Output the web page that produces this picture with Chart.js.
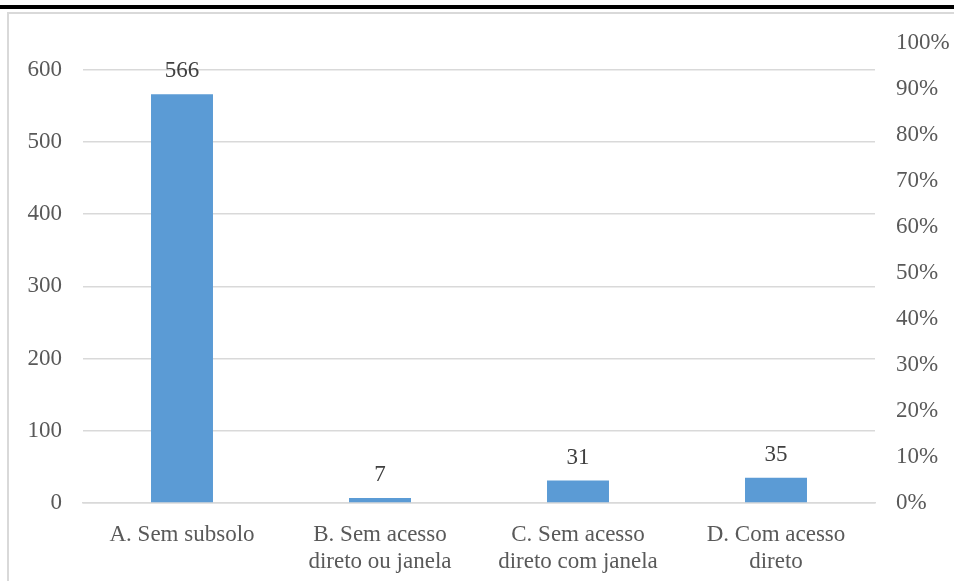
<!DOCTYPE html>
<html>
<head>
<meta charset="utf-8">
<script src="https://cdn.jsdelivr.net/npm/chart.js@4/dist/chart.umd.min.js"></script>
<style>
    body { margin: 0; background: #fff; }
    .topRule { position: absolute; left: 0; top: 5px; width: 954px; height: 4px; background: #000; }
    .frame {
        position: absolute; left: 7px; top: 12px; width: 945px; height: 567px;
        border-left: 2px solid #d9d9d9; border-top: 2px solid #d9d9d9;
    }
    .frame canvas { display: block; }
</style>
</head>
<body>
<div class="topRule"></div>
<div class="frame"><canvas id="subsoloChart" width="945" height="567"></canvas></div>
<script>
// Categories and counts
const categories = [
    ['A. Sem subsolo'],
    ['B. Sem acesso', 'direto ou janela'],
    ['C. Sem acesso', 'direto com janela'],
    ['D. Com acesso', 'direto']
];
const counts = [566, 7, 31, 35];
const countTicks = [0, 100, 200, 300, 400, 500, 600];
const percentTicks = [0, 0.1, 0.2, 0.3, 0.4, 0.5, 0.6, 0.7, 0.8, 0.9, 1];

const fontFamily = '"Liberation Serif", "Times New Roman", serif';
const tickColor = '#595959';

// Writes each bar's value above it
const valueLabels = {
    id: 'valueLabels',
    afterDatasetsDraw(chart) {
        const ctx = chart.ctx;
        const meta = chart.getDatasetMeta(0);
        ctx.save();
        ctx.font = '23px ' + fontFamily;
        ctx.fillStyle = '#404040';
        ctx.textAlign = 'center';
        ctx.textBaseline = 'middle';
        meta.data.forEach((bar, i) => {
            ctx.fillText(String(counts[i]), bar.x, bar.y - 23);
        });
        ctx.restore();
    }
};

// Fixed side axis width, without the extra top/bottom room for labels
function sideAxisFit(width) {
    return scale => {
        scale.width = width;
        scale.paddingTop = 0;
        scale.paddingBottom = 0;
    };
}

window.addEventListener('load', () => {
    const ctx = document.getElementById('subsoloChart').getContext('2d');
    new Chart(ctx, {
        type: 'bar',
        data: {
            labels: categories,
            datasets: [{
                data: counts,
                backgroundColor: '#5b9bd5',
                borderWidth: 0,
                barPercentage: 0.313,
                categoryPercentage: 1,
                yAxisID: 'y'
            }]
        },
        options: {
            responsive: false,
            animation: false,
            layout: { padding: { top: 29, left: 0, right: 0, bottom: 0 } },
            plugins: {
                legend: { display: false },
                tooltip: { enabled: false }
            },
            scales: {
                x: {
                    grid: { display: false, drawTicks: false },
                    border: { display: true, color: '#d9d9d9', width: 1.5 },
                    ticks: {
                        color: tickColor,
                        padding: 18,
                        maxRotation: 0,
                        autoSkip: false,
                        font: { family: fontFamily, size: 23, lineHeight: 1.2 }
                    },
                    afterFit(scale) { scale.height = 78; }
                },
                y: {
                    position: 'left',
                    min: 0,
                    max: 637,
                    afterBuildTicks(scale) {
                        scale.ticks = countTicks.map(v => ({ value: v }));
                    },
                    grid: { color: '#d9d9d9', lineWidth: 1.5, drawTicks: false },
                    border: { display: false },
                    ticks: {
                        color: tickColor,
                        padding: 21,
                        font: { family: fontFamily, size: 23 }
                    },
                    afterFit: sideAxisFit(74)
                },
                pct: {
                    display: true,
                    position: 'right',
                    min: 0,
                    max: 1,
                    afterBuildTicks(scale) {
                        scale.ticks = percentTicks.map(v => ({ value: v }));
                    },
                    grid: { display: false, drawTicks: false },
                    border: { display: false },
                    ticks: {
                        color: tickColor,
                        padding: 21,
                        font: { family: fontFamily, size: 23 },
                        callback: v => Math.round(v * 100) + '%'
                    },
                    afterFit: sideAxisFit(79)
                }
            }
        },
        plugins: [valueLabels]
    });
});
</script>
</body>
</html>
